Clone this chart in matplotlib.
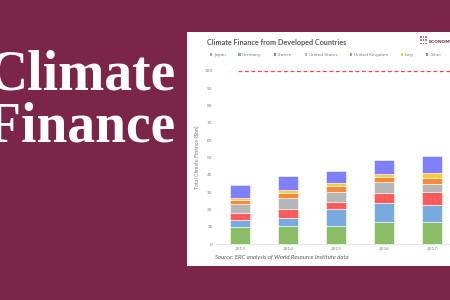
import matplotlib
matplotlib.use("Agg")
import matplotlib.pyplot as plt
import matplotlib.patches as patches
import numpy as np

# data ($bn)
years = ["2013", "2014", "2015", "2016", "2017"]
countries = ["Japan", "Germany", "France", "United States",
             "United Kingdom", "Italy", "Other"]
japan = [9.6, 10.2, 10.3, 12.6, 12.6]
germany = [4.0, 4.7, 9.8, 11.3, 10.0]
france = [4.4, 5.2, 4.4, 5.4, 7.5]
united_states = [5.2, 6.3, 5.8, 6.5, 4.8]
united_kingdom = [2.3, 3.3, 3.2, 3.1, 3.4]
italy = [1.1, 1.3, 1.7, 1.7, 2.7]
other = [7.5, 8.3, 6.9, 7.9, 10.1]
target = 100
yticks = list(range(0, 101, 10))

series = [japan, germany, france, united_states, united_kingdom, italy, other]
colors = ['#8cbd67', '#77aadd', '#ff5b5b', '#b6b6b6',
          '#f28c3c', '#ffc93c', '#8080ff']

maroon = '#7b2548'
fig = plt.figure(figsize=(4.5, 3), dpi=100)
fig.patch.set_facecolor(maroon)

# big title on the left (cut at the left edge like the original)
fig.text(-13 / 450, 1 - 90 / 300, "Climate", family='Liberation Serif',
         weight='bold', fontsize=40, color='white', va='baseline')
fig.text(-13 / 450, 1 - 141 / 300, "Finance", family='Liberation Serif',
         weight='bold', fontsize=40, color='white', va='baseline')

# white card
card = patches.Rectangle((187 / 450, 34 / 300), 1, 234 / 300,
                         transform=fig.transFigure, facecolor='white',
                         edgecolor='none', zorder=0)
fig.add_artist(card)

fig.text(207 / 450, 1 - 43 / 300, "Climate Finance from Developed Countries",
         family='Lato', weight='bold', fontsize=5.2, color='#595959',
         va='center')

# logo
for r in range(3):
    for c in range(3):
        fig.add_artist(patches.Rectangle(((420 + c * 2.6) / 450, 1 - (37.5 + r * 3.3) / 300),
                                         1.6 / 450, 1.6 / 300, transform=fig.transFigure,
                                         facecolor='#c4708f', edgecolor='none', zorder=2))
fig.text(428.5 / 450, 1 - 42 / 300, "ECONOMICS", family='DejaVu Sans',
         fontsize=3.2, color='#8a3a5c', va='center', weight='bold')

ax = fig.add_axes([216 / 450, 56 / 300, 240 / 450, 173 / 300])
ax.set_facecolor('none')
x = np.arange(len(years))
bottom = np.zeros(len(years))
for name, vals, col in zip(countries, series, colors):
    ax.bar(x, vals, 0.4, bottom=bottom, color=col, edgecolor='white',
           linewidth=0.4, label=name)
    bottom += np.array(vals)

ax.plot([-0.05, 4.6], [target, target], color='#ff4040', linestyle=(0, (3, 2.2)),
        linewidth=0.9, clip_on=False)

ax.set_xlim(-0.5, 4.5)
ax.set_ylim(0, 100)
ax.set_xticks(x)
ax.set_xticklabels(years)
ax.set_yticks(yticks)
ax.tick_params(length=0, labelsize=3.2, labelcolor='#7f7f7f', pad=2.5)
for s in ['top', 'right', 'left']:
    ax.spines[s].set_visible(False)
ax.spines['bottom'].set_color('#d9d9d9')
ax.spines['bottom'].set_linewidth(0.5)
ax.set_ylabel("Total Climate Finance ($bn)", fontsize=3.8, color='#7f7f7f',
              family='Lato', labelpad=4)

leg = fig.legend(loc='center left', bbox_to_anchor=(210 / 450, 1 - 55 / 300),
                 ncol=7, frameon=False, fontsize=3.1, handlelength=0.5,
                 handleheight=0.5, handletextpad=0.4, columnspacing=2.9,
                 borderaxespad=0, borderpad=0)
for t in leg.get_texts():
    t.set_color('#7f7f7f')
for h in leg.legend_handles:
    h.set_edgecolor('none')

fig.text(215 / 450, 1 - 257 / 300,
         "Source: ERC analysis of World Resource Institute data",
         family='Lato', style='italic', fontsize=4.3, color='#595959',
         va='center')

fig.savefig("out.png", dpi=100, facecolor=maroon)
